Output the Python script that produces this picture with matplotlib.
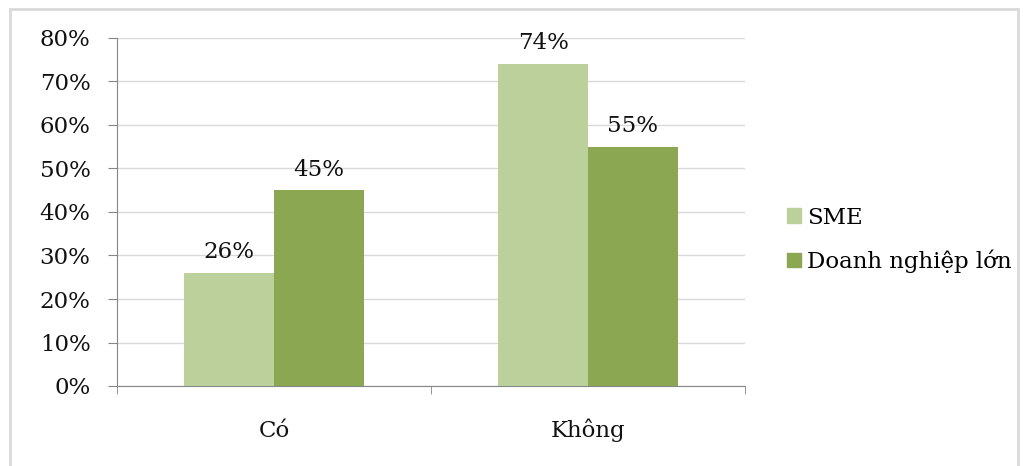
import matplotlib.pyplot as plt
from matplotlib.patches import Rectangle, Patch
import numpy as np

categories = ["Có", "Không"]
sme = [26, 74]
large = [45, 55]
series_names = ["SME", "Doanh nghiệp lớn"]
colors = ["#BBD09A", "#8BA752"]

plt.rcParams['font.family'] = ['DejaVu Serif']
fs = 16.5

fig = plt.figure(figsize=(10.23, 4.66), dpi=100)
ax = fig.add_axes([117 / 1023, 1 - 386 / 466, 628 / 1023, 348 / 466])

x = np.arange(len(categories))
w = 0.286
b1 = ax.bar(x - w / 2, sme, w, color=colors[0], zorder=3)
b2 = ax.bar(x + w / 2, large, w, color=colors[1], zorder=3)

for bars in (b1, b2):
    for rect in bars:
        h = rect.get_height()
        ax.annotate("%d%%" % h, (rect.get_x() + rect.get_width() / 2, h),
                    xytext=(0, 7), textcoords="offset points",
                    ha="center", va="bottom", fontsize=fs, color="#111111")

ax.set_xlim(-0.5, 1.5)
ax.set_ylim(0, 80)
ax.set_yticks(range(0, 81, 10))
ax.set_yticklabels(["%d%%" % v for v in range(0, 81, 10)])
ax.set_xticks(x)
ax.set_xticklabels(categories, va="baseline")
ax.set_xticks([-0.5, 0.5, 1.5], minor=True)
ax.tick_params(axis="x", which="major", length=0, pad=36.5, labelsize=fs)
ax.tick_params(axis="x", which="minor", length=6, color="#868686")
ax.tick_params(axis="y", length=6.5, color="#868686", labelsize=fs, pad=12.5)
ax.tick_params(labelcolor="#111111")

ax.yaxis.grid(True, color="#D9D9D9", linewidth=1, zorder=0)
for s in ["top", "right"]:
    ax.spines[s].set_visible(False)
ax.spines["left"].set_color("#868686")
ax.spines["bottom"].set_color("#868686")

handles = [Patch(color=c) for c in colors]
fig.legend(handles, series_names, loc="center left",
           bbox_to_anchor=(787 / 1023, 1 - 240 / 466), frameon=False,
           fontsize=fs, handlelength=0.62, handleheight=0.62,
           handletextpad=0.26, labelspacing=0.9, borderpad=0,
           borderaxespad=0)

fig.patches.append(Rectangle((10 / 1023, -0.05), 1008 / 1023, 1.05 - 9 / 466,
                             transform=fig.transFigure, fill=False,
                             edgecolor="#D9D9D9", linewidth=2))

fig.savefig("out.png", dpi=100)
